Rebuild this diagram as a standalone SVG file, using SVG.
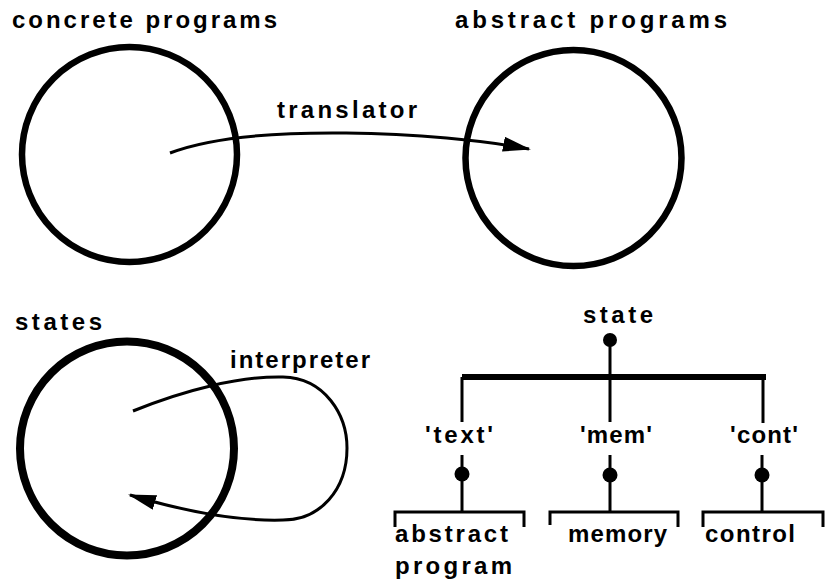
<svg xmlns="http://www.w3.org/2000/svg" width="826" height="579" viewBox="0 0 826 579">
  <style>
    .lbl { font-family: "Liberation Sans", Arial, sans-serif; font-weight: bold; font-size: 24px; fill: #000; }
    .ring { fill: none; stroke: #000; stroke-width: 6.5; }
    .conn { fill: none; stroke: #000; stroke-width: 3; }
    .tree { fill: none; stroke: #000; stroke-width: 3; }
    .bar { fill: none; stroke: #000; stroke-width: 6; }
    .dot { fill: #000; }
  </style>
  <defs>
    <marker id="arrow" viewBox="0 0 28 15" refX="26" refY="7.5" markerWidth="28" markerHeight="15" markerUnits="userSpaceOnUse" orient="auto">
      <path d="M0,0 L28,7.5 L0,15 z" fill="#000"/>
    </marker>
  </defs>
  <rect width="826" height="579" fill="#fff"/>

  <g id="concrete-programs">
    <circle class="ring" cx="129.5" cy="154.5" r="107.5"/>
    <text class="lbl" x="12" y="28" textLength="265" lengthAdjust="spacing">concrete programs</text>
  </g>

  <g id="abstract-programs">
    <circle class="ring" cx="573.5" cy="158" r="108"/>
    <text class="lbl" x="455" y="28" textLength="272" lengthAdjust="spacing">abstract programs</text>
  </g>

  <g id="states">
    <circle class="ring" cx="127" cy="448.5" r="107" style="stroke-width:8"/>
    <text class="lbl" x="15" y="330" textLength="87" lengthAdjust="spacing">states</text>
  </g>

  <g id="connectors">
    <path class="conn" d="M170,153 C250,122 440,132 529,149" marker-end="url(#arrow)"/>
    <text class="lbl" x="277" y="118" textLength="140" lengthAdjust="spacing">translator</text>
    <path class="conn" d="M133,411 C185,390 240,376 283,377 C325,378 347,415 347,448 C347,490 320,520 283,520 C250,521 200,516 130,495" marker-end="url(#arrow)"/>
    <text class="lbl" x="230" y="368" textLength="140" lengthAdjust="spacing">interpreter</text>
  </g>

  <g id="state-tree">
    <text class="lbl" x="583" y="323" textLength="70" lengthAdjust="spacing">state</text>
    <circle class="dot" cx="610" cy="340" r="7"/>
    <line class="tree" x1="610" y1="340" x2="610" y2="422"/>
    <line class="bar" x1="462" y1="377" x2="766" y2="377"/>
    <line class="tree" x1="462" y1="377" x2="462" y2="422"/>
    <line class="tree" x1="763" y1="377" x2="763" y2="423"/>
  </g>

  <g id="field-text">
    <text class="lbl" x="425" y="443" textLength="68" lengthAdjust="spacing">'text'</text>
    <line class="tree" x1="462" y1="455" x2="462" y2="512"/>
    <circle class="dot" cx="462" cy="474" r="7.5"/>
    <path class="tree" d="M395,527 V512 H524 V527"/>
    <text class="lbl" x="395" y="542" textLength="113" lengthAdjust="spacing">abstract</text>
    <text class="lbl" x="395" y="574" textLength="117" lengthAdjust="spacing">program</text>
  </g>

  <g id="field-mem">
    <text class="lbl" x="580" y="443" textLength="72" lengthAdjust="spacing">'mem'</text>
    <line class="tree" x1="610" y1="455" x2="610" y2="512"/>
    <circle class="dot" cx="610" cy="475" r="7.5"/>
    <path class="tree" d="M550,525 V512 H678 V527"/>
    <text class="lbl" x="568" y="542" textLength="99" lengthAdjust="spacing">memory</text>
  </g>

  <g id="field-cont">
    <text class="lbl" x="730" y="443" textLength="68" lengthAdjust="spacing">'cont'</text>
    <line class="tree" x1="762" y1="455" x2="762" y2="512"/>
    <circle class="dot" cx="762" cy="475" r="7.5"/>
    <path class="tree" d="M703,527 V512 H823 V527"/>
    <text class="lbl" x="705" y="542" textLength="90" lengthAdjust="spacing">control</text>
  </g>
</svg>
